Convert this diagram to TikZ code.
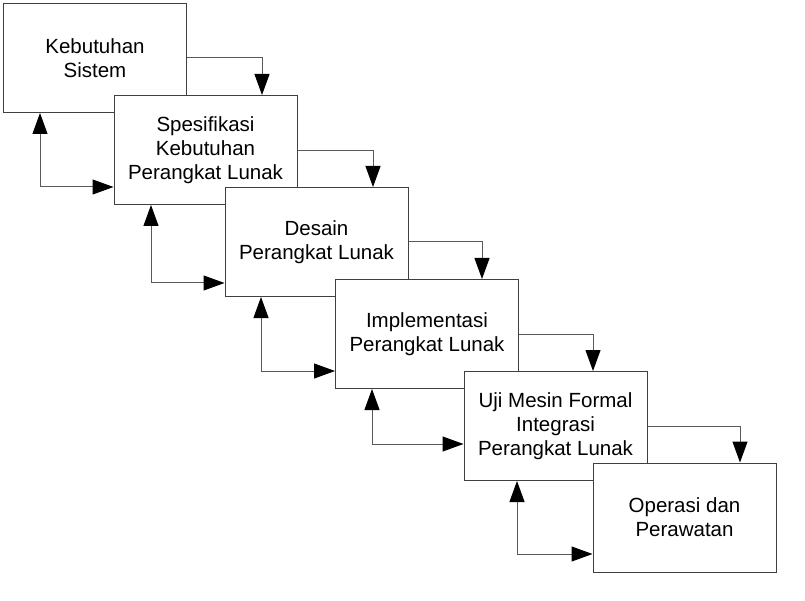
\documentclass[tikz,border=0pt]{standalone}
\usepackage{fontspec}
\setmainfont{Liberation Sans}
\usetikzlibrary{arrows.meta}
\begin{document}
\begin{tikzpicture}[x=1pt,y=-1pt,
  phase/.style={draw=black!75,line width=1pt,fill=white,minimum width=183pt,minimum height=109pt,
    inner sep=0pt,align=center,font=\fontsize{20.5}{24}\selectfont},
  conn/.style={draw=black!65,line width=1pt,-{Triangle[length=21pt,width=15pt,fill=black,color=black]}},
  bconn/.style={draw=black!65,line width=1pt,{Triangle[length=21pt,width=15pt,fill=black,color=black]}-{Triangle[length=21pt,width=15pt,fill=black,color=black]}}]
\useasboundingbox (0,0) rectangle (805,601);
% boxes: left,top = (3,3),(114,95),(225,187),(335,279),(464,371),(593,463)
\node[phase] (b1) at (95,58) {Kebutuhan\\Sistem};
\node[phase] (b2) at (205.5,150) {Spesifikasi\\Kebutuhan\\Perangkat Lunak};
\node[phase] (b3) at (316.5,242) {Desain\\Perangkat Lunak};
\node[phase] (b4) at (427,334) {Implementasi\\Perangkat Lunak};
\node[phase] (b5) at (555.5,426) {Uji Mesin Formal\\Integrasi\\Perangkat Lunak};
\node[phase] (b6) at (684.5,517.5) {Operasi dan\\Perawatan};
% forward arrows
\draw[conn] (b1.east |- 0,58) -| (b2.north -| 262,0);
\draw[conn] (b2.east |- 0,151) -| (b3.north -| 373,0);
\draw[conn] (b3.east |- 0,242) -| (b4.north -| 482,0);
\draw[conn] (b4.east |- 0,334) -| (b5.north -| 593,0);
\draw[conn] (b5.east |- 0,426) -| (b6.north -| 740,0);
% backward arrows
\draw[bconn] (b1.south -| 40,0) |- (b2.west |- 0,187);
\draw[bconn] (b2.south -| 151,0) |- (b3.west |- 0,283);
\draw[bconn] (b3.south -| 261,0) |- (b4.west |- 0,371);
\draw[bconn] (b4.south -| 372,0) |- (b5.west |- 0,444);
\draw[bconn] (b5.south -| 517,0) |- (b6.west |- 0,554);
\end{tikzpicture}
\end{document}
